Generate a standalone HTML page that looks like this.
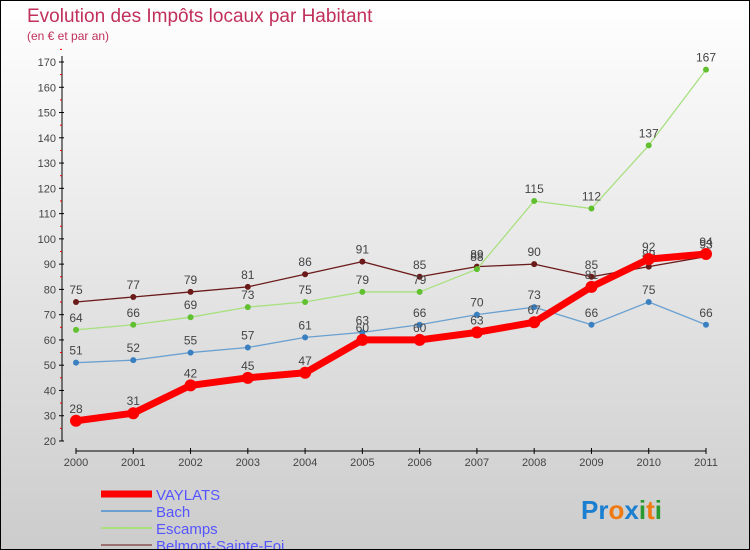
<!DOCTYPE html>
<html><head><meta charset="utf-8"><style>
body{margin:0}
#c{width:748px;height:548px;border:1px solid #000;background:linear-gradient(#fff,#ccc);position:relative;font-family:"Liberation Sans",sans-serif;overflow:hidden}
svg text{font-family:"Liberation Sans",sans-serif}
</style></head><body>
<div id="c">
<svg id="s" width="748" height="548">
<text x="26" y="21" font-size="19" fill="#c0305a">Evolution des Impôts locaux par Habitant</text>
<text x="26" y="39" font-size="12" fill="#c0305a">(en € et par an)</text>
<text x="580" y="518" font-size="26" font-weight="bold"><tspan fill="#1a7fd0">Pr</tspan><tspan fill="#f07a10">o</tspan><tspan fill="#1a7fd0">x</tspan><tspan fill="#2a9a30">i</tspan><tspan fill="#f07a10">t</tspan><tspan fill="#2a9a30">i</tspan></text>
</svg>
</div>
<script>
const years=["2000","2001","2002","2003","2004","2005","2006","2007","2008","2009","2010","2011"];
const vaylats=[28,31,42,45,47,60,60,63,67,81,92,94];
const bach=[51,52,55,57,61,63,66,70,73,66,75,66];
const escamps=[64,66,69,73,75,79,79,88,115,112,137,167];
const belmont=[75,77,79,81,86,91,85,89,90,85,89,93];
const yTicks=[20,30,40,50,60,70,80,90,100,110,120,130,140,150,160,170];
const NS="http://www.w3.org/2000/svg",s=document.getElementById('s');
const X=i=>75+i*(630/11), Y=v=>440-(v-20)*(379/150);
function mk(t,a,p){const e=document.createElementNS(NS,t);for(const k in a)e.setAttribute(k,a[k]);(p||s).appendChild(e);return e;}
let ax=mk('line',{x1:61,y1:55,x2:61,y2:440,stroke:'#000'});

yTicks.forEach(v=>{mk('line',{x1:58,y1:Y(v),x2:63,y2:Y(v),stroke:'#000'});
 mk('line',{x1:59,y1:Y(v+5),x2:61,y2:Y(v+5),stroke:'#e00'});
 let t=mk('text',{x:55,y:Y(v)+4,'text-anchor':'end','font-size':11,fill:'#444'});t.textContent=v;
 });
let xa=mk('line',{x1:75,y1:450,x2:705,y2:450,stroke:'#000'});

years.forEach((y,i)=>{mk('line',{x1:X(i),y1:447,x2:X(i),y2:453,stroke:'#000'});
 let t=mk('text',{x:X(i),y:465,'text-anchor':'middle','font-size':11,fill:'#444'});t.textContent=y;
 });
const series=[[belmont,'#6b1a1a','#9b7070',1.3,3,'belmont'],[escamps,'#a8e080','#60c030',1.3,3,'escamps'],[bach,'#6aa0d0','#3a80c0',1.3,3,'bach'],[vaylats,'#f00','#f00',7,6,'vaylats']];
series.forEach(([d,lc,pc,w,r,n])=>{
 const g=mk('g',{});
 mk('polyline',{points:d.map((v,i)=>X(i)+','+Y(v)).join(' '),fill:'none',stroke:lc,'stroke-width':w,'stroke-linejoin':'round'},g);
 d.forEach((v,i)=>{let c=mk('circle',{cx:X(i),cy:Y(v),r:r,fill:n=='belmont'?'#6b1a1a':pc},g);
  
  let t=mk('text',{x:X(i),y:Y(v)-8,'text-anchor':'middle','font-size':12,fill:'#444'},g);t.textContent=v;});
});
const leg=[['VAYLATS','#f00',7],['Bach','#6aa0d0',2],['Escamps','#a8e080',2],['Belmont-Sainte-Foi','#9b7070',2]];
leg.forEach(([n,c,w],i)=>{const y=493+i*17;
 const g=mk('g',{});
 mk('line',{x1:100,y1:y,x2:151,y2:y,stroke:c,'stroke-width':w},g);
 let t=mk('text',{x:155,y:y+6,'font-size':15,fill:'#55f'},g);t.textContent=n;});
</script>
</body></html>
